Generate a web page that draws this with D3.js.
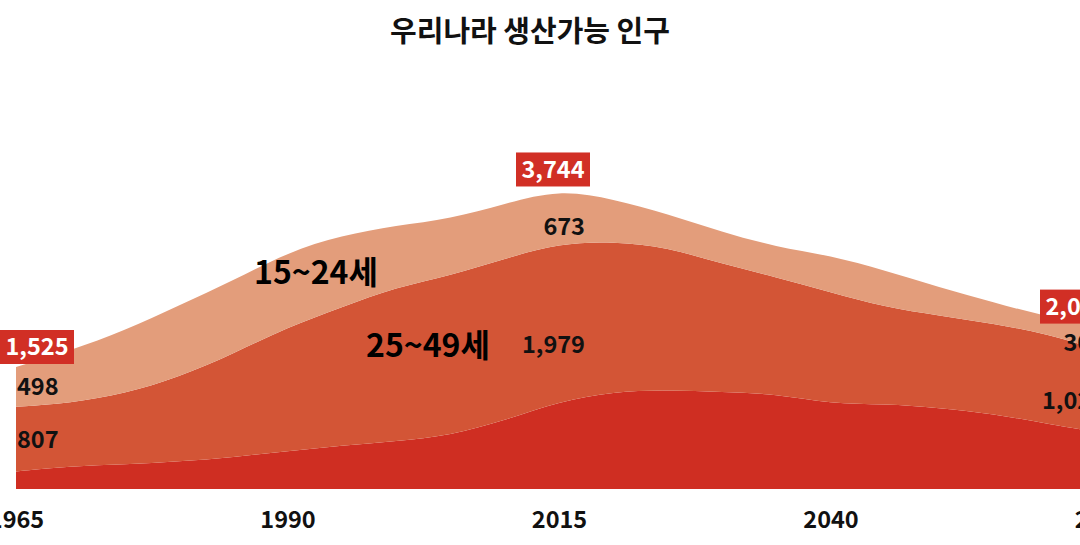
<!DOCTYPE html>
<html>
<head>
<meta charset="utf-8">
<script src="https://cdnjs.cloudflare.com/ajax/libs/d3/7.8.5/d3.min.js"></script>
<style>
  html, body { margin: 0; padding: 0; background: #fff; overflow: hidden; }
  #chart { width: 1080px; height: 545px; }
  text { font-family: "Noto Sans CJK KR", "Noto Sans", sans-serif; font-weight: 700; }
</style>
</head>
<body>
<div id="chart"></div>
<script>
// data (만 명)
const years = [1965, 1970, 1975, 1980, 1985, 1990, 1995, 2000, 2005, 2010, 2015,
  2020, 2025, 2030, 2035, 2040, 2045, 2050, 2055, 2060, 2065];
const age50to64 = [220, 285, 306, 344, 398, 473, 544, 598, 669, 856, 1092,
  1219, 1240, 1210, 1190, 1065, 1065, 1015, 940, 815, 700];
const age25to49 = [807, 788, 884, 1054, 1292, 1550, 1729, 1925, 2000, 2022, 1979,
  1875, 1783, 1603, 1458, 1395, 1208, 1154, 1125, 1125, 1025];
const age15to24 = [498, 658, 791, 896, 916, 937, 896, 771, 709, 687, 673,
  531, 415, 400, 377, 459, 458, 354, 270, 208, 305];
const seriesKeys = ['50~64세', '25~49세', '15~24세'];
const tickYears = [1965, 1990, 2015, 2040, 2065];
const labelYears = [1965, 2015, 2065];
const chartTitle = '우리나라 생산가능 인구';

class StackPlot {
  constructor(targetDiv) {
    this.targetEle = targetDiv;
    d3.select(this.targetEle).selectAll('*').remove();

    this.width = 1080;
    this.height = 545;
    this.svg = null;
    this.xScale = null;
    this.yScale = null;
    this.color = null;

    // one row per year
    this.rows = years.map((yr, i) => ({
      year: yr,
      '50~64세': age50to64[i],
      '25~49세': age25to49[i],
      '15~24세': age15to24[i]
    }));
  }

  setupPlot() {
    this.xScale = d3.scaleLinear()
      .domain([1965, 2065])
      .range([16, 1102]);

    this.yScale = d3.scaleLinear()
      .domain([0, 4000])
      .range([489, 169]);

    this.color = d3.scaleOrdinal()
      .domain(seriesKeys)
      .range(['#cf2e22', '#d35536', '#e39d7b']);

    this.svg = d3.select(this.targetEle).append('svg')
      .attr('width', this.width)
      .attr('height', this.height);

    this.svg.append('text')
      .attr('x', 530)
      .attr('y', 42)
      .attr('text-anchor', 'middle')
      .style('font-size', '29px')
      .style('fill', '#111')
      .text(chartTitle);

    // x-axis, labels only
    const xAxis = d3.axisBottom(this.xScale)
      .tickValues(tickYears)
      .tickFormat(d3.format('d'))
      .tickSize(0)
      .tickPadding(0);

    const axisG = this.svg.append('g')
      .attr('transform', 'translate(0, 511)')
      .call(xAxis);
    axisG.select('.domain').remove();
    axisG.selectAll('text')
      .attr('dy', '0.71em')
      .style('font-size', '23.5px')
      .style('font-family', '"Noto Sans CJK KR", sans-serif')
      .style('font-weight', 700)
      .style('fill', '#111');
  }

  draw() {
    const self = this;
    const stacked = d3.stack().keys(seriesKeys)(this.rows);

    const area = d3.area()
      .curve(d3.curveBasis)
      .x(d => self.xScale(d.data.year))
      .y0(d => self.yScale(d[0]))
      .y1(d => self.yScale(d[1]));

    this.svg.insert('g', 'g')
      .selectAll('path')
      .data(stacked)
      .enter()
      .append('path')
        .attr('d', area)
        .style('fill', d => self.color(d.key));

    // series names
    this.svg.append('text')
      .attr('x', 254)
      .attr('y', 284)
      .style('font-size', '32px')
      .text(seriesKeys[2]);
    this.svg.append('text')
      .attr('x', 366)
      .attr('y', 357)
      .style('font-size', '32px')
      .text(seriesKeys[1]);

    const fmt = d3.format(',');
    const top = stacked[2];
    const mid = stacked[1];
    const valueSize = '23.5px';

    labelYears.forEach((yr, n) => {
      const i = years.indexOf(yr);
      const x = self.xScale(yr);
      const total = top[i][1];

      // values inside bands
      let anchor = 'start', tx = x + 1, dyTop = 0, dyMid = 0;
      if (n === 1) { anchor = 'end'; tx = x + 26; dyTop = 10; dyMid = 22; }
      if (n === 2) { anchor = 'end'; tx = x + 3; dyTop = 4; dyMid = 9; }

      self.svg.append('text')
        .attr('x', tx)
        .attr('y', self.yScale((top[i][0] + top[i][1]) / 2) + dyTop)
        .attr('dy', '0.36em')
        .attr('text-anchor', anchor)
        .style('font-size', valueSize)
        .style('fill', '#111')
        .text(fmt(age15to24[i]));

      self.svg.append('text')
        .attr('x', tx)
        .attr('y', self.yScale((mid[i][0] + mid[i][1]) / 2) + dyMid)
        .attr('dy', '0.36em')
        .attr('text-anchor', anchor)
        .style('font-size', valueSize)
        .style('fill', '#111')
        .text(fmt(age25to49[i]));

      // total in red box
      const boxW = 74, boxH = 34;
      const boxBottom = self.yScale(total) - 3;
      let left = x - 16;
      if (n === 1) left = x - 43;
      if (n === 2) left = x - 62;

      self.svg.append('rect')
        .attr('x', left)
        .attr('y', boxBottom - boxH)
        .attr('width', boxW)
        .attr('height', boxH)
        .style('fill', '#d12f25');

      self.svg.append('text')
        .attr('x', left + boxW / 2)
        .attr('y', boxBottom - boxH / 2)
        .attr('dy', '0.36em')
        .attr('text-anchor', 'middle')
        .style('font-size', valueSize)
        .style('fill', '#fff')
        .text(fmt(total));
    });
  }
}

const plot = new StackPlot('#chart');
plot.setupPlot();
plot.draw();
</script>
</body>
</html>
